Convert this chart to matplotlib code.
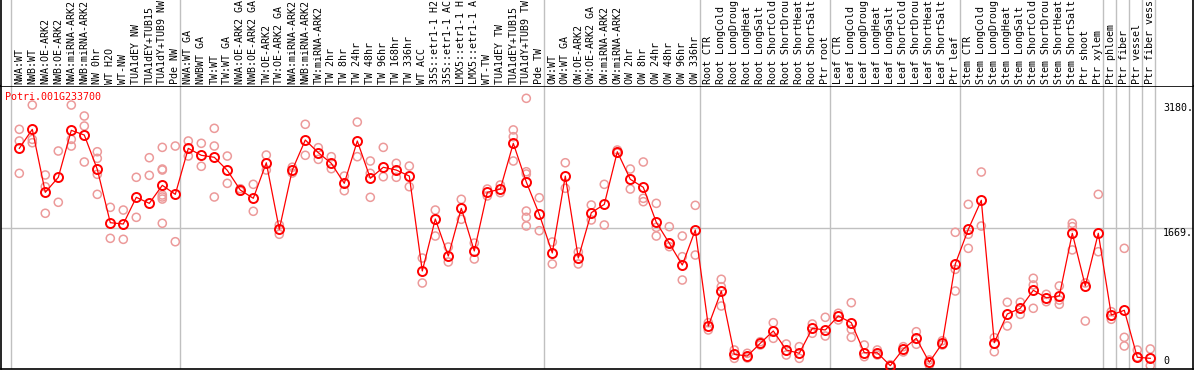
import numpy as np
import matplotlib.pyplot as plt

gene = "Potri.001G233700"

labels = [
    "NWA:WT", "NWB:WT", "NWA:OE-ARK2", "NWB:OE-ARK2", "NWA:miRNA-ARK2",
    "NWB:miRNA-ARK2", "NW 0hr", "WT H2O", "WT-NW", "TUA1dEY NW",
    "TUA1dEY+TUB15", "TUA1dY+TUB9 NW", "Pde NW", "NWA:WT GA", "NWBWT GA",
    "TW:WT", "TW:WT GA", "NWA:OE-ARK2 GA", "NWB:OE-ARK2 GA", "TW:OE-ARK2",
    "TW:OE-ARK2 GA", "NWA:miRNA-ARK2", "NWB:miRNA-ARK2", "TW:miRNA-ARK2",
    "TW 2hr", "TW 8hr", "TW 24hr", "TW 48hr", "TW 96hr", "TW 168hr",
    "TW 336hr", "WT ACC", "35S::etr1-1 H2", "35S::etr1-1 AC", "LMX5::etr1-1 H",
    "LMX5::etr1-1 A", "WT-TW", "TUA1dEY TW", "TUA1dEY+TUB15", "TUA1dY+TUB9 TW",
    "Pde TW", "OW:WT", "OW:WT GA", "OW:OE-ARK2", "OW:OE-ARK2 GA",
    "OW:miRNA-ARK2", "OW:miRNA-ARK2", "OW 2hr", "OW 8hr", "OW 24hr",
    "OW 48hr", "OW 96hr", "OW 336hr", "Root CTR", "Root LongCold",
    "Root LongDroug", "Root LongHeat", "Root LongSalt", "Root ShortCold",
    "Root ShortDrou", "Root ShortHeat", "Root ShortSalt", "Ptr root",
    "Leaf CTR", "Leaf LongCold", "Leaf LongDroug", "Leaf LongHeat",
    "Leaf LongSalt", "Leaf ShortCold", "Leaf ShortDrou", "Leaf ShortHeat",
    "Leaf ShortSalt", "Ptr leaf", "Stem CTR", "Stem LongCold",
    "Stem LongDroug", "Stem LongHeat", "Stem LongSalt", "Stem ShortCold",
    "Stem ShortDrou", "Stem ShortHeat", "Stem ShortSalt", "Ptr shoot",
    "Ptr xylem", "Ptr phloem", "Ptr fiber", "Ptr vessel", "Ptr fiber vess",
]

means = [
    2628, 2858, 2096, 2278, 2846, 2789, 2374, 1729, 1713, 2036,
    1963, 2181, 2072, 2628, 2544, 2520, 2362, 2124, 2024, 2454,
    1649, 2366, 2729, 2575, 2447, 2205, 2717, 2266, 2399, 2366,
    2293, 1145, 1774, 1326, 1903, 1387, 2096, 2136, 2689, 2221,
    1830, 1363, 2293, 1302, 1850, 1951, 2587, 2254, 2157, 1734,
    1480, 1217, 1641, 480, 903, 138, 117, 271, 420, 190,
    150, 452, 432, 601, 520, 157, 157, 0, 202, 331,
    41, 271, 1230, 1649, 2000, 278, 625, 694, 912, 822,
    843, 1601, 964, 1601, 613, 670, 102, 89,
]

reps = [
    [2858, 2717, 2326], [3152, 2737, 2696], [2306, 2164, 1843], [2596, 1976],
    [3152, 2737, 2656], [3019, 2898, 2463], [2587, 2507, 2314, 2072],
    [1915, 1540], [1882, 1528], [2278, 1794], [2515, 2302],
    [2640, 2378, 2366, 2064, 2040, 2015, 1722], [2656, 1499], [2717, 2535],
    [2689, 2411], [2870, 2656, 2040], [2535, 2205], [2140, 2110],
    [2193, 1867], [2547, 2366], [1701, 1589], [2400, 2330], [2919, 2544],
    [2636, 2495], [2527, 2382], [2293, 2116], [2946, 2527],
    [2475, 2326, 2036], [2640, 2285], [2447, 2278], [2414, 2164],
    [1302, 1000], [1882, 1568], [1435, 1254], [2012, 1770], [1483, 1290],
    [2136, 2052], [2185, 2092], [2851, 2769, 2475],
    [3233, 2345, 2318, 1870, 1794, 1689], [2031, 1632], [1496, 1230],
    [2454, 2145], [1375, 1230], [1943, 1762], [2193, 1701], [2608, 2572],
    [2378, 2136], [2463, 2024, 1983], [1963, 1673, 1568],
    [1681, 1483, 1439], [1568, 1318, 1036], [1939, 1338], [520, 432],
    [1045, 955, 722], [190, 89], [150, 93], [290, 250], [520, 331],
    [262, 129], [230, 89], [504, 392], [585, 359], [634, 553],
    [762, 440, 343], [250, 109], [190, 129], [12, 0], [230, 166],
    [411, 259], [69, 8], [302, 250], [1613, 1165, 903],
    [1951, 1589, 1419], [2342, 1689], [339, 169], [767, 480], [767, 621],
    [1057, 976, 694], [863, 774], [964, 794, 742], [1722, 1681, 1400],
    [1000, 540], [2072, 1378], [653, 561], [1419, 343, 238], [190, 105],
    [202, 0],
]

# group separators (after these 1-based columns)
sep_after = [0, 13, 41, 53, 63, 73, 84, 85, 86, 87, 88]
grid_val = 1669
tick_vals = [3180, 1669, 0]
tick_text = ["3180.", "1669.", "0"]

W, H = 1194, 370
fig = plt.figure(figsize=(W / 100, H / 100), dpi=100)


def px_rect(x0, y0, x1, y1):
    return [x0 / W, 1 - y1 / H, (x1 - x0) / W, (y1 - y0) / H]


ax = fig.add_axes(px_rect(1, 86, 1193, 369))
top = fig.add_axes(px_rect(1, 0, 1193, 86), sharex=ax)

x = np.arange(len(means))
xlim = ((1 - 19.3) / 13, (1193 - 19.3) / 13)
ax.set_xlim(*xlim)
ax.set_ylim(-40, 3382)
top.set_ylim(0, 86)

mono = "DejaVu Sans Mono"
grey = "#c0c0c0"

for k in sep_after:
    ax.axvline(k - 0.62, color=grey, lw=1, zorder=0)
    top.axvline(k - 0.62, color=grey, lw=1, zorder=0)
ax.axhline(grid_val, color=grey, lw=1, zorder=0)

# replicate points
rx = [i for i, r in enumerate(reps) for _ in r]
ry = [v for r in reps for v in r]
ax.scatter(rx, ry, s=34, facecolors="none", edgecolors="#ec9a9a",
           linewidths=1.1, zorder=2)

# mean line
ax.plot(x, means, color="red", lw=0.9, marker="o", ms=6.5, mfc="none",
        mec="red", mew=1.4, zorder=3)

for i, lab in enumerate(labels):
    top.text(i, 2, lab, rotation=90, ha="center", va="bottom",
             fontsize=7.2, family=mono, color="black")

tr = ax.get_yaxis_transform()
for v, t in zip(tick_vals, tick_text):
    ax.text((1163 - 1) / 1192, v, t, transform=tr, ha="left",
            va="bottom" if v == 0 else "top", fontsize=7.2, family=mono)

fig.text(5 / W, 1 - 97 / H, gene, color="red", va="center", ha="left",
         fontsize=7.2, family=mono)

ax.set_xticks([])
ax.set_yticks([])
top.set_xticks([])
top.set_yticks([])
for s in ax.spines.values():
    s.set_color("black")
    s.set_linewidth(1.2)
top.spines["top"].set_visible(False)
top.spines["bottom"].set_visible(False)
top.spines["left"].set_linewidth(1.2)
top.spines["right"].set_linewidth(1.2)

fig.savefig("out.png", dpi=100)
